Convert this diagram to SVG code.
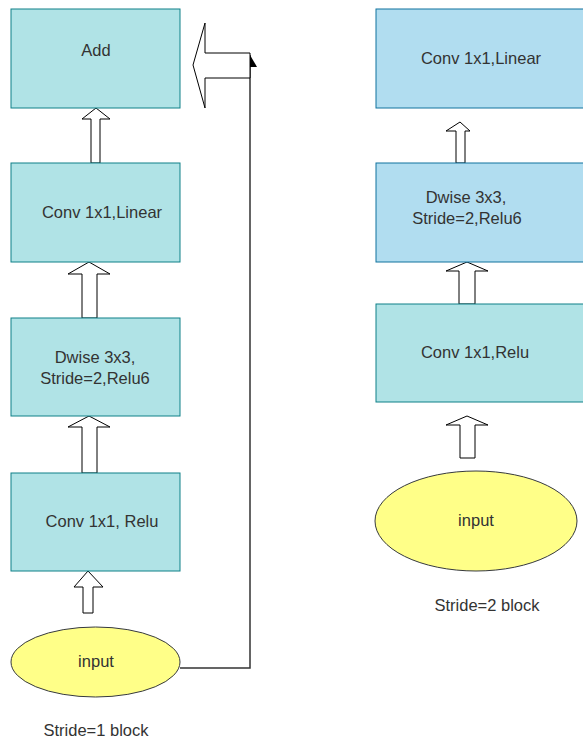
<svg xmlns="http://www.w3.org/2000/svg" width="583" height="742" viewBox="0 0 583 742">
<style>
.teal{fill:#b0e3e6;stroke:#0e8088;stroke-width:1}
.blue{fill:#b1ddf0;stroke:#10739e;stroke-width:1}
.ell{fill:#ffff88;stroke:#36393d;stroke-width:1}
.t{font-family:"Liberation Sans",Arial,sans-serif;font-size:16.5px;fill:#333;text-anchor:middle;dominant-baseline:central}
.blk{fill:#fff;stroke:#000;stroke-width:1}
.line{fill:none;stroke:#333;stroke-width:1.5}
</style>
<rect width="583" height="742" fill="#fff"/>
<g id="connectors">
<polygon class="blk" points="96,108 110,119 100,119 100,163 91,163 91,119 82,119"/>
<polygon class="blk" points="89,262 110,274 97,274 97,318 82,318 82,274 68,274"/>
<polygon class="blk" points="89,416 110,427 97,427 97,473 82,473 82,427 68,427"/>
<polygon class="blk" points="88,571 103,587 93,587 93,613 83,613 83,587 74,587"/>
<polyline class="line" points="180,668 250,668 250,55"/>
<polygon points="250,55 257,67 250,67" fill="#000"/>
<polygon class="blk" points="250,53 205,53 205,23 193,65 205,108 205,78 250,78"/>
<polygon class="blk" points="460,122 470,131 465,131 465,163 456,163 456,131 446,131"/>
<polygon class="blk" points="467,262 488,271 475,271 475,304 459,304 459,271 446,271"/>
<polygon class="blk" points="467,416 488,425 475,425 475,458 460,458 460,425 446,425"/>
</g>
<g id="add"><rect class="teal" x="11" y="9" width="169" height="99"/><text class="t" x="96" y="50">Add</text></g>
<g id="conv-linear-1"><rect class="teal" x="11" y="163" width="169" height="99"/><text class="t" x="102" y="212">Conv 1x1,Linear</text></g>
<g id="dwise-1"><rect class="teal" x="11" y="318" width="169" height="98"/><text class="t" x="95" y="357">Dwise 3x3,</text><text class="t" x="95" y="378">Stride=2,Relu6</text></g>
<g id="conv-relu-1"><rect class="teal" x="11" y="473" width="169" height="98"/><text class="t" x="102" y="521">Conv 1x1, Relu</text></g>
<g id="input-1"><ellipse class="ell" cx="95.5" cy="662" rx="84.5" ry="35"/><text class="t" x="96" y="661">input</text></g>
<g id="label-1"><text class="t" x="96" y="730">Stride=1 block</text></g>
<g id="conv-linear-2"><rect class="blue" x="376" y="9" width="215" height="99"/><text class="t" x="481" y="58">Conv 1x1,Linear</text></g>
<g id="dwise-2"><rect class="blue" x="376" y="163" width="215" height="99"/><text class="t" x="466" y="197">Dwise 3x3,</text><text class="t" x="467" y="218">Stride=2,Relu6</text></g>
<g id="conv-relu-2"><rect class="teal" x="376" y="304" width="215" height="98"/><text class="t" x="475" y="352">Conv 1x1,Relu</text></g>
<g id="input-2"><ellipse class="ell" cx="476" cy="521" rx="101" ry="50"/><text class="t" x="476" y="520">input</text></g>
<g id="label-2"><text class="t" x="487" y="605">Stride=2 block</text></g>
</svg>
